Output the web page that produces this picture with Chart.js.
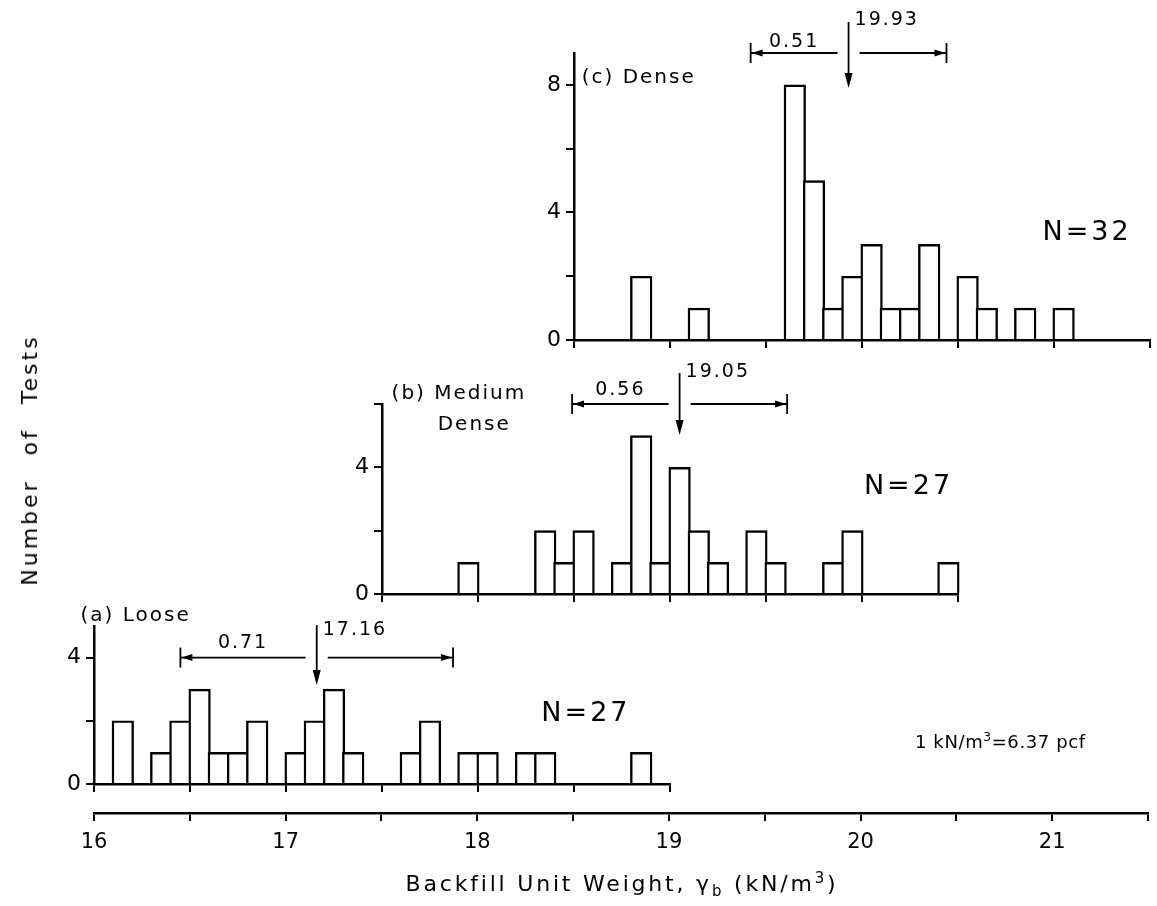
<!DOCTYPE html>
<html>
<head>
<meta charset="utf-8">
<script src="https://cdn.jsdelivr.net/npm/chart.js@4.4.1/dist/chart.umd.min.js"></script>
<style>
  body { margin: 0; background: #fff; }
  #fig { position: relative; width: 1157px; height: 906px; overflow: hidden; font-family: "DejaVu Sans", sans-serif; color: #000; }
  #fig canvas { position: absolute; left: 0; top: 0; }
  .txt { position: absolute; white-space: nowrap; line-height: 24px; }
  .txt sub, .txt sup { font-size: 68%; line-height: 0; }
  #xtitle { left: 622px; top: 872px; font-size: 22px; letter-spacing: 2.8px; transform: translateX(-50%); }
  #ytitle { left: 30px; top: 460px; font-size: 22px; letter-spacing: 3px; word-spacing: 14px; transform: translate(-50%, -50%) rotate(-90deg); }
  #note { left: 915px; top: 730px; font-size: 18px; letter-spacing: 0.6px; }
</style>
</head>
<body>
<div id="fig">
  <canvas id="axisChart" width="1157" height="906"></canvas>
  <canvas id="looseChart" width="1157" height="906"></canvas>
  <canvas id="mediumChart" width="1157" height="906"></canvas>
  <canvas id="denseChart" width="1157" height="906"></canvas>
  <div class="txt" id="xtitle">Backfill Unit Weight, γ<sub>b</sub> (kN/m<sup>3</sup>)</div>
  <div class="txt" id="ytitle">Number of Tests</div>
  <div class="txt" id="note">1 kN/m<sup>3</sup>=6.37 pcf</div>
</div>
<script>
// histogram data, bins are 0.1 kN/m3 wide, value = lower edge of bin
const binWidth = 0.1;

const looseBins   = [16.1, 16.3, 16.4, 16.5, 16.6, 16.7, 16.8, 17.0, 17.1, 17.2, 17.3, 17.6, 17.7, 17.9, 18.0, 18.2, 18.3, 18.8];
const looseCounts = [2, 1, 2, 3, 1, 1, 2, 1, 2, 3, 1, 1, 2, 1, 1, 1, 1, 1];

const mediumBins   = [17.9, 18.3, 18.4, 18.5, 18.7, 18.8, 18.9, 19.0, 19.1, 19.2, 19.4, 19.5, 19.8, 19.9, 20.4];
const mediumCounts = [1, 2, 1, 2, 1, 5, 1, 4, 2, 1, 2, 1, 1, 2, 1];

const denseBins   = [18.8, 19.1, 19.6, 19.7, 19.8, 19.9, 20.0, 20.1, 20.2, 20.3, 20.5, 20.6, 20.8, 21.0];
const denseCounts = [2, 1, 8, 5, 1, 2, 3, 1, 1, 3, 2, 1, 1, 1];

// summary stats per panel: loose, medium dense, dense
const panelNames  = ['(a) Loose', '(b) Medium', '(c) Dense'];
const means       = [17.16, 19.05, 19.93];
const stdDevs     = [0.71, 0.56, 0.51];
const sampleSizes = [27, 27, 32];

// labelled ticks of the common axis
const mainTickLabels = [16, 17, 18, 19, 20, 21];

// ---- layout (pixels) ----
const W = 1157, H = 906;
const X0 = 94;      // pixel of 16 kN/m3
const PX = 192;     // pixels per kN/m3
const Y_W = 40;     // width of panel y axes
const X_H = 10;     // height of panel x axes (tick marks only)
const BAR_LINE = 2.4;
const FONT = '"DejaVu Sans", sans-serif';

const xPix = v => X0 + (v - 16) * PX;

function arrowHead(ctx, tx, ty, dx, dy, len, half) {
    ctx.beginPath();
    ctx.moveTo(tx, ty);
    ctx.lineTo(tx - dx * len - dy * half, ty - dy * len + dx * half);
    ctx.lineTo(tx - dx * len + dy * half, ty - dy * len - dx * half);
    ctx.closePath();
    ctx.fill();
}

function seg(ctx, x1, y1, x2, y2) {
    ctx.beginPath();
    ctx.moveTo(x1, y1);
    ctx.lineTo(x2, y2);
    ctx.stroke();
}

// draws mean arrow, +-sd dimension line and the panel texts through the chart scales
function makeAnnotator(a) {
    return {
        id: 'annotate',
        afterDraw(chart) {
            const ctx = chart.ctx;
            const x = chart.scales.x, y = chart.scales.y;
            const xm = x.getPixelForValue(a.mean);
            const xl = x.getPixelForValue(a.mean - a.sd);
            const xr = x.getPixelForValue(a.mean + a.sd);
            const gap = 11;
            const yl = y.getPixelForValue(a.lineAt);
            ctx.save();
            ctx.strokeStyle = '#000';
            ctx.fillStyle = '#000';
            ctx.lineWidth = 1.8;

            // dimension line broken around the mean arrow
            seg(ctx, xl, yl, xm - gap, yl);
            seg(ctx, xm + gap, yl, xr, yl);
            seg(ctx, xl, yl - 10, xl, yl + 10);
            seg(ctx, xr, yl - 10, xr, yl + 10);
            arrowHead(ctx, xl + 1, yl, -1, 0, 11, 3.5);
            arrowHead(ctx, xr - 1, yl, 1, 0, 11, 3.5);

            // mean arrow
            const yt = y.getPixelForValue(a.arrowTop);
            const yb = y.getPixelForValue(a.arrowTip);
            seg(ctx, xm, yt, xm, yb - 12);
            arrowHead(ctx, xm, yb, 0, 1, 15, 4);

            ctx.textBaseline = 'middle';
            ctx.font = '19px ' + FONT;
            ctx.letterSpacing = '2px';
            ctx.textAlign = 'left';
            ctx.fillText(a.mean.toFixed(2), xm + 6, y.getPixelForValue(a.meanLabelAt));
            ctx.textAlign = 'center';
            ctx.fillText(a.sd.toFixed(2), (xl + xm - gap) / 2, y.getPixelForValue(a.sdLabelAt));

            ctx.textAlign = 'left';
            ctx.font = '20px ' + FONT;
            ctx.letterSpacing = '2px';
            a.titles.forEach(t => {
                ctx.fillText(t.text, x.getPixelForValue(t.x), y.getPixelForValue(t.y));
            });

            ctx.font = '27px ' + FONT;
            ctx.letterSpacing = '3px';
            ctx.fillText('N=' + a.n, x.getPixelForValue(a.nAt[0]), y.getPixelForValue(a.nAt[1]));
            ctx.restore();
        }
    };
}

function panelChart(id, bins, counts, box, ann) {
    const left = xPix(box.xMin), right = xPix(box.xMax);
    return new Chart(document.getElementById(id), {
        type: 'bar',
        data: {
            datasets: [{
                data: bins.map((b, i) => ({ x: +(b + binWidth / 2).toFixed(2), y: counts[i] })),
                backgroundColor: '#fff',
                borderColor: '#000',
                borderWidth: BAR_LINE,
                borderSkipped: 'start',
                barThickness: binWidth * PX + BAR_LINE,
                clip: false
            }]
        },
        options: {
            responsive: false,
            animation: false,
            events: [],
            layout: {
                padding: { left: left - Y_W, right: W - right, top: box.top, bottom: H - box.bottom - X_H }
            },
            plugins: { legend: { display: false }, tooltip: { enabled: false } },
            scales: {
                x: {
                    type: 'linear',
                    min: box.xMin,
                    max: box.xMax,
                    offset: false,
                    z: 1,
                    ticks: { display: false, stepSize: 0.5 },
                    grid: { offset: false, drawOnChartArea: false, drawTicks: true, tickLength: 8, color: '#000', lineWidth: 2 },
                    border: { display: true, color: '#000', width: 2.5 },
                    afterFit: s => { s.height = X_H; }
                },
                y: {
                    min: 0,
                    max: box.yMax,
                    z: 1,
                    ticks: {
                        stepSize: 2,
                        includeBounds: false,
                        color: '#000',
                        padding: 5,
                        font: { family: FONT, size: 22 },
                        callback: v => (v % 4 === 0 ? String(v) : '')
                    },
                    grid: { drawOnChartArea: false, drawTicks: true, tickLength: 8, color: '#000', lineWidth: 2 },
                    border: { display: true, color: '#000', width: 2.5 },
                    afterFit: s => { s.width = Y_W; }
                }
            }
        },
        plugins: [makeAnnotator(ann)]
    });
}

// common axis along the bottom
new Chart(document.getElementById('axisChart'), {
    type: 'scatter',
    data: { datasets: [] },
    options: {
        responsive: false,
        animation: false,
        events: [],
        layout: { padding: { left: X0, right: W - xPix(21.5), top: 790, bottom: H - 813 - 45 } },
        plugins: { legend: { display: false }, tooltip: { enabled: false } },
        scales: {
            x: {
                type: 'linear',
                min: 16,
                max: 21.5,
                ticks: {
                    stepSize: 0.5,
                    autoSkip: false,
                    maxRotation: 0,
                    color: '#000',
                    padding: 9,
                    font: { family: FONT, size: 21 },
                    callback: v => (mainTickLabels.includes(v) ? String(v) : '')
                },
                grid: { drawOnChartArea: false, drawTicks: true, tickLength: 8, color: '#000', lineWidth: 2 },
                border: { display: true, color: '#000', width: 2.5 },
                afterFit: s => { s.height = 45; }
            },
            y: { display: false }
        }
    }
});

panelChart('looseChart', looseBins, looseCounts,
    { xMin: 16, xMax: 19, yMax: 5, top: 626, bottom: 784 },
    { mean: means[0], sd: stdDevs[0], n: sampleSizes[0], lineAt: 4.0, arrowTop: 5.03, arrowTip: 3.13,
      meanLabelAt: 4.87, sdLabelAt: 4.45, nAt: [18.33, 2.2],
      titles: [{ text: panelNames[0], x: 15.93, y: 5.32 }] });

panelChart('mediumChart', mediumBins, mediumCounts,
    { xMin: 17.5, xMax: 20.5, yMax: 6, top: 404, bottom: 594 },
    { mean: means[1], sd: stdDevs[1], n: sampleSizes[1], lineAt: 6.0, arrowTop: 6.98, arrowTip: 5.02,
      meanLabelAt: 7.01, sdLabelAt: 6.44, nAt: [20.01, 3.38],
      titles: [{ text: panelNames[1], x: 17.55, y: 6.32 }, { text: 'Dense', x: 17.79, y: 5.34 }] });

panelChart('denseChart', denseBins, denseCounts,
    { xMin: 18.5, xMax: 21.5, yMax: 9, top: 53, bottom: 340 },
    { mean: means[2], sd: stdDevs[2], n: sampleSizes[2], lineAt: 9.0, arrowTop: 9.97, arrowTip: 7.9,
      meanLabelAt: 10.03, sdLabelAt: 9.34, nAt: [20.94, 3.35],
      titles: [{ text: panelNames[2], x: 18.54, y: 8.21 }] });
</script>
</body>
</html>
